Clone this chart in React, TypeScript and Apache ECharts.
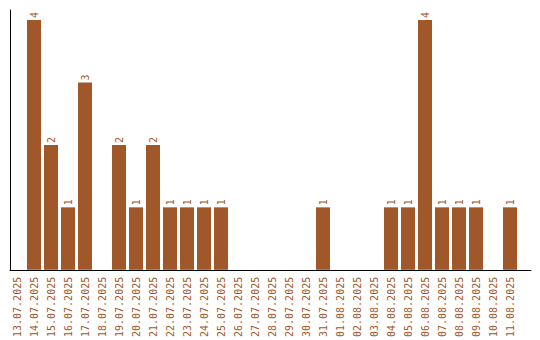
import React, { useEffect, useRef } from "react";
import * as echarts from "echarts";

const categories = [
  "13.07.2025", "14.07.2025", "15.07.2025", "16.07.2025", "17.07.2025", "18.07.2025",
  "19.07.2025", "20.07.2025", "21.07.2025", "22.07.2025", "23.07.2025", "24.07.2025",
  "25.07.2025", "26.07.2025", "27.07.2025", "28.07.2025", "29.07.2025", "30.07.2025",
  "31.07.2025", "01.08.2025", "02.08.2025", "03.08.2025", "04.08.2025", "05.08.2025",
  "06.08.2025", "07.08.2025", "08.08.2025", "09.08.2025", "10.08.2025", "11.08.2025",
];
const values = [0, 4, 2, 1, 3, 0, 2, 1, 2, 1, 1, 1, 1, 0, 0, 0, 0, 0, 1, 0, 0, 0, 1, 1, 4, 1, 1, 1, 0, 1];

const COLOR = "#a0572a";
const FONT = "DejaVu Sans Mono";

export default function App() {
  const ref = useRef<HTMLDivElement>(null);
  useEffect(() => {
    if (!ref.current) return;
    const chart = echarts.init(ref.current, undefined, { renderer: "svg" });
    chart.setOption({
      animation: false,
      grid: [
        { left: 10, right: 9, top: 10, bottom: 70 },
        { left: 8.5, right: 21.5, top: 10, bottom: 70 },
      ],
      xAxis: [
        {
          gridIndex: 0, type: "value", min: 0, max: 1,
          axisLine: { show: true, lineStyle: { color: "#000", width: 1 } },
          axisTick: { show: false }, axisLabel: { show: false }, splitLine: { show: false },
        },
        {
          gridIndex: 1, type: "category", data: categories,
          axisLine: { show: false }, axisTick: { show: false },
          axisLabel: {
            interval: 0, rotate: 90, color: COLOR, fontFamily: FONT, fontSize: 10, margin: 7,
          },
        },
      ],
      yAxis: [
        {
          gridIndex: 0, type: "value", min: 0, max: 1,
          axisLine: { show: true, lineStyle: { color: "#000", width: 1 } },
          axisTick: { show: false }, axisLabel: { show: false }, splitLine: { show: false },
        },
        {
          gridIndex: 1, type: "value", min: 0, max: 4.16,
          axisLine: { show: false }, axisTick: { show: false }, axisLabel: { show: false },
          splitLine: { show: false },
        },
      ],
      series: [
        {
          type: "bar",
          xAxisIndex: 1,
          yAxisIndex: 1,
          data: values.map((v) => (v === 0 ? null : v)),
          barWidth: 14,
          itemStyle: { color: COLOR },
          label: {
            show: true,
            position: "top",
            rotate: 90,
            align: "left",
            verticalAlign: "middle",
            distance: 2,
            color: COLOR,
            fontFamily: FONT,
            fontSize: 10,
          },
        },
      ],
    });
    return () => chart.dispose();
  }, []);
  return <div ref={ref} style={{ width: 540, height: 340, position: "absolute", left: 0, top: 0 }} />;
}
